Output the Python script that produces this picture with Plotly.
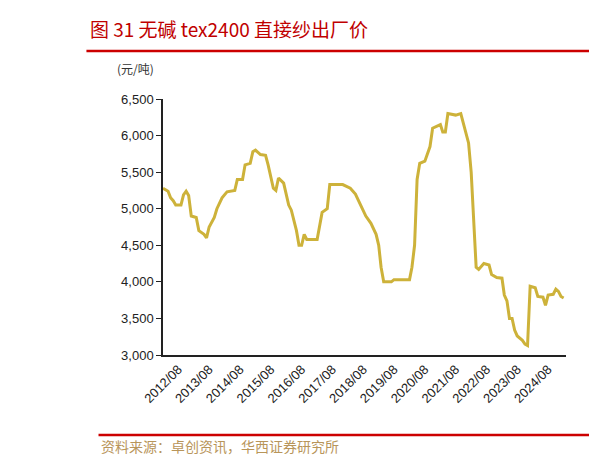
import plotly.graph_objects as go

# glass fibre tex2400 direct roving ex-factory price, yuan/ton
dates = [
    "2012-02", "2012-04", "2012-05", "2012-06", "2012-07", "2012-09", "2012-10", "2012-11", "2012-12",
    "2013-01", "2013-03", "2013-04", "2013-06", "2013-07", "2013-08", "2013-10", "2013-11",
    "2014-01", "2014-03", "2014-06", "2014-07", "2014-09", "2014-10", "2014-12",
    "2015-01", "2015-02", "2015-04", "2015-06", "2015-07", "2015-08", "2015-09", "2015-10", "2015-11",
    "2016-01", "2016-02", "2016-03", "2016-04", "2016-05", "2016-06", "2016-07", "2016-08", "2016-09", "2016-10",
    "2017-02", "2017-03", "2017-04", "2017-06", "2017-07", "2017-12",
    "2018-03", "2018-05", "2018-07", "2018-09", "2018-11",
    "2019-01", "2019-02", "2019-03", "2019-04", "2019-07", "2019-08",
    "2020-02", "2020-03", "2020-04", "2020-05", "2020-06", "2020-08", "2020-10", "2020-11",
    "2021-02", "2021-03", "2021-04", "2021-05", "2021-08", "2021-10", "2021-12",
    "2022-01", "2022-02", "2022-03", "2022-04", "2022-05", "2022-07", "2022-09", "2022-10", "2022-12",
    "2023-02", "2023-03", "2023-04", "2023-05", "2023-06", "2023-07", "2023-08", "2023-10", "2023-11", "2023-12",
    "2024-01", "2024-03", "2024-04", "2024-06", "2024-07", "2024-08", "2024-10", "2024-11", "2024-12",
    "2025-01", "2025-02",
]
prices = [
    5280, 5240, 5150, 5110, 5050, 5050, 5190, 5240, 5180,
    4900, 4880, 4700, 4650, 4600, 4750, 4880, 5000,
    5150, 5230, 5250, 5400, 5400, 5600, 5620,
    5780, 5800, 5740, 5730, 5600, 5450, 5280, 5250, 5420,
    5350, 5200, 5050, 4980, 4850, 4700, 4500, 4500, 4650, 4580,
    4580, 4750, 4950, 5000, 5330, 5330,
    5280, 5200, 5050, 4900, 4800,
    4650, 4500, 4200, 4000, 4000, 4030,
    4030, 4200, 4500, 5400, 5620, 5650, 5850, 6100,
    6150, 6050, 6050, 6300, 6280, 6300, 6050,
    5900, 5500, 4800, 4200, 4170, 4250, 4230, 4100, 4060,
    4050, 3820, 3740, 3500, 3500, 3340, 3260, 3200, 3150, 3130,
    3940, 3920, 3800, 3790, 3680, 3820, 3830, 3900, 3870,
    3800, 3780,
]
tick_dates = ["%d-08-01" % y for y in range(2012, 2025)]
tick_text = ["%d/08" % y for y in range(2012, 2025)]

fig = go.Figure()
fig.add_trace(go.Scatter(x=dates, y=prices, mode="lines",
                         line=dict(color="#cdb23a", width=3)))

fig.update_layout(
    width=597, height=460,
    margin=dict(l=155, r=39, t=91, b=113, autoexpand=False),
    paper_bgcolor="white", plot_bgcolor="white",
    showlegend=False,
    font=dict(family="Liberation Sans, Arial", size=13, color="#222"),
)
fig.update_xaxes(range=["2012-02-01", "2025-03-01"], tickvals=tick_dates, ticktext=tick_text,
                 tickangle=-45, showgrid=False, showline=True, linecolor="#222", linewidth=1.5,
                 ticks="", zeroline=False)
fig.update_yaxes(range=[3000, 6500], dtick=500, tickformat=",", showgrid=False,
                 showline=True, linecolor="#222", linewidth=1.5, ticks="outside",
                 ticklen=5, tickcolor="#222", zeroline=False)

# title, unit and source
fig.add_annotation(text="图 31 无碱 tex2400 直接纱出厂价", xref="paper", yref="paper",
                   x=-0.185, y=1.277, xanchor="left", yanchor="middle", showarrow=False,
                   font=dict(size=19, color="#c00000", family="Noto Sans CJK SC"))
fig.add_shape(type="line", xref="paper", yref="paper", x0=-0.19, x1=1.1, y0=1.1875, y1=1.1875,
              line=dict(color="#cc0000", width=2.5))
fig.add_annotation(text="(元/吨)", xref="paper", yref="paper", x=-0.12, y=1.12,
                   xanchor="left", yanchor="middle", showarrow=False,
                   font=dict(size=12, color="#333", family="Noto Sans CJK SC"))
fig.add_shape(type="line", xref="paper", yref="paper", x0=-0.16, x1=1.1, y0=-0.3125, y1=-0.3125,
              line=dict(color="#cc0000", width=2.5))
fig.add_annotation(text="资料来源：卓创资讯，华西证券研究所", xref="paper", yref="paper",
                   x=-0.16, y=-0.355, xanchor="left", yanchor="middle", showarrow=False,
                   font=dict(size=14, color="#b8955a", family="Noto Sans CJK SC"))

fig.write_html("out.html")
